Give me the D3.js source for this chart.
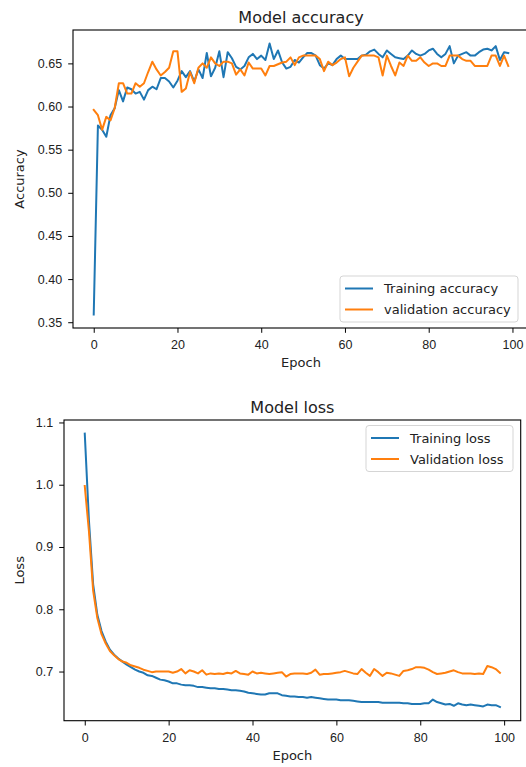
<!DOCTYPE html>
<html>
<head>
<meta charset="utf-8">
<script src="https://cdn.jsdelivr.net/npm/d3@7"></script>
<style>
  body { margin: 0; background: #fff; }
  svg { display: block; font-family: "DejaVu Sans", sans-serif; }
  .tick text { font-size: 12.5px; fill: #222; }
  .tick line { stroke: #000; stroke-width: 1; }
</style>
</head>
<body>
<svg width="526" height="767"></svg>
<script>
// epochs 0..99
let epochs = d3.range(100);

let trainAcc = [
  0.359, 0.578, 0.573, 0.565, 0.590, 0.598, 0.619, 0.606, 0.622, 0.620,
  0.615, 0.617, 0.608, 0.619, 0.623, 0.620, 0.633, 0.633, 0.629, 0.622,
  0.630, 0.641, 0.634, 0.641, 0.629, 0.643, 0.633, 0.662, 0.635, 0.645,
  0.664, 0.634, 0.663, 0.656, 0.646, 0.643, 0.647, 0.657, 0.661, 0.655,
  0.659, 0.654, 0.673, 0.655, 0.665, 0.651, 0.644, 0.646, 0.654, 0.651,
  0.657, 0.662, 0.662, 0.659, 0.648, 0.644, 0.650, 0.648, 0.655, 0.659,
  0.655, 0.655, 0.655, 0.655, 0.659, 0.660, 0.664, 0.666, 0.661, 0.657,
  0.665, 0.661, 0.657, 0.656, 0.655, 0.659, 0.665, 0.661, 0.659, 0.661,
  0.665, 0.667, 0.661, 0.657, 0.661, 0.670, 0.650, 0.659, 0.661, 0.663,
  0.659, 0.659, 0.663, 0.666, 0.667, 0.665, 0.670, 0.654, 0.663, 0.662
];

let valAcc = [
  0.596, 0.590, 0.573, 0.588, 0.584, 0.598, 0.627, 0.627, 0.615, 0.615,
  0.627, 0.623, 0.627, 0.640, 0.652, 0.643, 0.636, 0.640, 0.645, 0.664,
  0.664, 0.617, 0.621, 0.640, 0.627, 0.645, 0.650, 0.645, 0.657, 0.650,
  0.647, 0.652, 0.652, 0.650, 0.637, 0.643, 0.636, 0.651, 0.644, 0.644,
  0.644, 0.636, 0.647, 0.647, 0.649, 0.651, 0.652, 0.657, 0.648, 0.657,
  0.659, 0.659, 0.659, 0.659, 0.655, 0.641, 0.652, 0.648, 0.651, 0.655,
  0.657, 0.635, 0.645, 0.652, 0.659, 0.659, 0.659, 0.659, 0.657, 0.636,
  0.659, 0.647, 0.636, 0.651, 0.647, 0.659, 0.653, 0.653, 0.657, 0.651,
  0.647, 0.650, 0.650, 0.647, 0.647, 0.659, 0.659, 0.659, 0.655, 0.653,
  0.653, 0.647, 0.647, 0.647, 0.647, 0.659, 0.659, 0.647, 0.659, 0.647
];

let trainLoss = [
  1.082, 0.942, 0.840, 0.791, 0.765, 0.748, 0.735, 0.727, 0.721, 0.716,
  0.711, 0.707, 0.703, 0.700, 0.698, 0.694, 0.693, 0.690, 0.687, 0.686,
  0.684, 0.681, 0.681, 0.679, 0.678, 0.678, 0.677, 0.675, 0.675, 0.674,
  0.673, 0.673, 0.672, 0.672, 0.671, 0.670, 0.670, 0.669, 0.668, 0.666,
  0.665, 0.664, 0.663, 0.663, 0.665, 0.665, 0.665, 0.662, 0.661, 0.660,
  0.660, 0.659, 0.659, 0.658, 0.659, 0.658, 0.657, 0.656, 0.655, 0.655,
  0.655, 0.654, 0.654, 0.654, 0.653, 0.652, 0.651, 0.651, 0.651, 0.651,
  0.651, 0.650, 0.650, 0.650, 0.650, 0.650, 0.649, 0.649, 0.648, 0.648,
  0.648, 0.649, 0.649, 0.655, 0.651, 0.649, 0.647, 0.648, 0.645, 0.649,
  0.647, 0.646, 0.647, 0.646, 0.645, 0.644, 0.647, 0.646, 0.646, 0.643
];

let valLoss = [
  0.998, 0.925, 0.830, 0.786, 0.760, 0.745, 0.733, 0.726, 0.720, 0.716,
  0.714, 0.710, 0.708, 0.706, 0.703, 0.701, 0.699, 0.700, 0.700, 0.700,
  0.700, 0.698, 0.700, 0.704, 0.697, 0.702, 0.700, 0.697, 0.702, 0.695,
  0.697, 0.696, 0.697, 0.696, 0.698, 0.697, 0.701, 0.697, 0.696, 0.695,
  0.700, 0.697, 0.698, 0.697, 0.696, 0.697, 0.698, 0.699, 0.692, 0.696,
  0.697, 0.697, 0.697, 0.696, 0.698, 0.703, 0.695, 0.696, 0.696, 0.697,
  0.698, 0.699, 0.701, 0.699, 0.697, 0.696, 0.704, 0.698, 0.693, 0.704,
  0.699, 0.693, 0.698, 0.697, 0.695, 0.693, 0.701, 0.702, 0.704, 0.707,
  0.707, 0.706, 0.703, 0.699, 0.696, 0.697, 0.698, 0.700, 0.702, 0.699,
  0.697, 0.697, 0.697, 0.696, 0.697, 0.696, 0.709, 0.707, 0.704, 0.698
];

let xTicks = [0, 20, 40, 60, 80, 100];
let accTicks = [0.35, 0.40, 0.45, 0.50, 0.55, 0.60, 0.65];
let lossTicks = [0.7, 0.8, 0.9, 1.0, 1.1];

let blue = '#1f77b4';
let orange = '#ff7f0e';

let svg = d3.select('svg');

// matplotlib style 5% padding
function padded(ext) {
  let m = (ext[1] - ext[0]) * 0.05;
  return [ext[0] - m, ext[1] + m];
}

function drawPanel(opts) {
  let x = d3.scaleLinear()
    .domain(padded(d3.extent(epochs)))
    .range([opts.left, opts.right]);

  let y = d3.scaleLinear()
    .domain(padded(d3.extent(opts.series[0].values.concat(opts.series[1].values))))
    .range([opts.bottom, opts.top]);

  let g = svg.append('g');

  let line = d3.line()
    .x((d, i) => x(epochs[i]))
    .y(d => y(d));

  opts.series.forEach(s => {
    g.append('path')
      .datum(s.values)
      .attr('fill', 'none')
      .attr('stroke', s.color)
      .attr('stroke-width', 2)
      .attr('stroke-linejoin', 'round')
      .attr('stroke-linecap', 'square')
      .attr('d', line);
  });

  // frame
  g.append('rect')
    .attr('x', opts.left)
    .attr('y', opts.top)
    .attr('width', opts.right - opts.left)
    .attr('height', opts.bottom - opts.top)
    .attr('fill', 'none')
    .attr('stroke', '#000')
    .attr('stroke-width', 1.1);

  g.append('g')
    .attr('transform', `translate(0, ${opts.bottom})`)
    .call(d3.axisBottom(x).tickValues(xTicks).tickSize(4.8).tickPadding(7.5).tickFormat(d3.format('d')))
    .call(a => a.select('.domain').remove());

  g.append('g')
    .attr('transform', `translate(${opts.left}, 0)`)
    .call(d3.axisLeft(y).tickValues(opts.yTicks).tickSize(4.8).tickPadding(6).tickFormat(d3.format(opts.yFormat)))
    .call(a => a.select('.domain').remove());

  let cx = (opts.left + opts.right) / 2;

  g.append('text')
    .attr('x', cx)
    .attr('y', opts.top - 7)
    .attr('text-anchor', 'middle')
    .attr('font-size', 16)
    .attr('fill', '#222')
    .text(opts.title);

  g.append('text')
    .attr('x', cx)
    .attr('y', opts.bottom + 39)
    .attr('text-anchor', 'middle')
    .attr('font-size', 13)
    .attr('fill', '#222')
    .text('Epoch');

  g.append('text')
    .attr('transform', `translate(${opts.yLabelX}, ${(opts.top + opts.bottom) / 2}) rotate(-90)`)
    .attr('text-anchor', 'middle')
    .attr('font-size', 13)
    .attr('fill', '#222')
    .text(opts.yLabel);

  // legend
  let L = opts.legend;
  let lg = g.append('g').attr('transform', `translate(${L.x}, ${L.y})`);
  lg.append('rect')
    .attr('width', L.w)
    .attr('height', 46)
    .attr('rx', 3)
    .attr('fill', '#fff')
    .attr('fill-opacity', 0.8)
    .attr('stroke', '#d5d5d5')
    .attr('stroke-width', 1);

  opts.series.forEach((s, i) => {
    let yy = 12.5 + i * 21;
    lg.append('line')
      .attr('x1', 5).attr('x2', 33)
      .attr('y1', yy).attr('y2', yy)
      .attr('stroke', s.color)
      .attr('stroke-width', 2);
    lg.append('text')
      .attr('x', 44)
      .attr('y', yy + 4.6)
      .attr('font-size', 13)
      .attr('fill', '#222')
      .text(s.name);
  });
}

drawPanel({
  left: 73, right: 529, top: 30, bottom: 328,
  title: 'Model accuracy',
  yLabel: 'Accuracy', yLabelX: 24,
  yTicks: accTicks, yFormat: '.2f',
  series: [
    { name: 'Training accuracy', values: trainAcc, color: blue },
    { name: 'validation accuracy', values: valAcc, color: orange }
  ],
  legend: { x: 340, y: 276, w: 178 }
});

drawPanel({
  left: 64, right: 520.7, top: 420, bottom: 720.7,
  title: 'Model loss',
  yLabel: 'Loss', yLabelX: 24,
  yTicks: lossTicks, yFormat: '.1f',
  series: [
    { name: 'Training loss', values: trainLoss, color: blue },
    { name: 'Validation loss', values: valLoss, color: orange }
  ],
  legend: { x: 366, y: 425.5, w: 147 }
});
</script>
</body>
</html>
